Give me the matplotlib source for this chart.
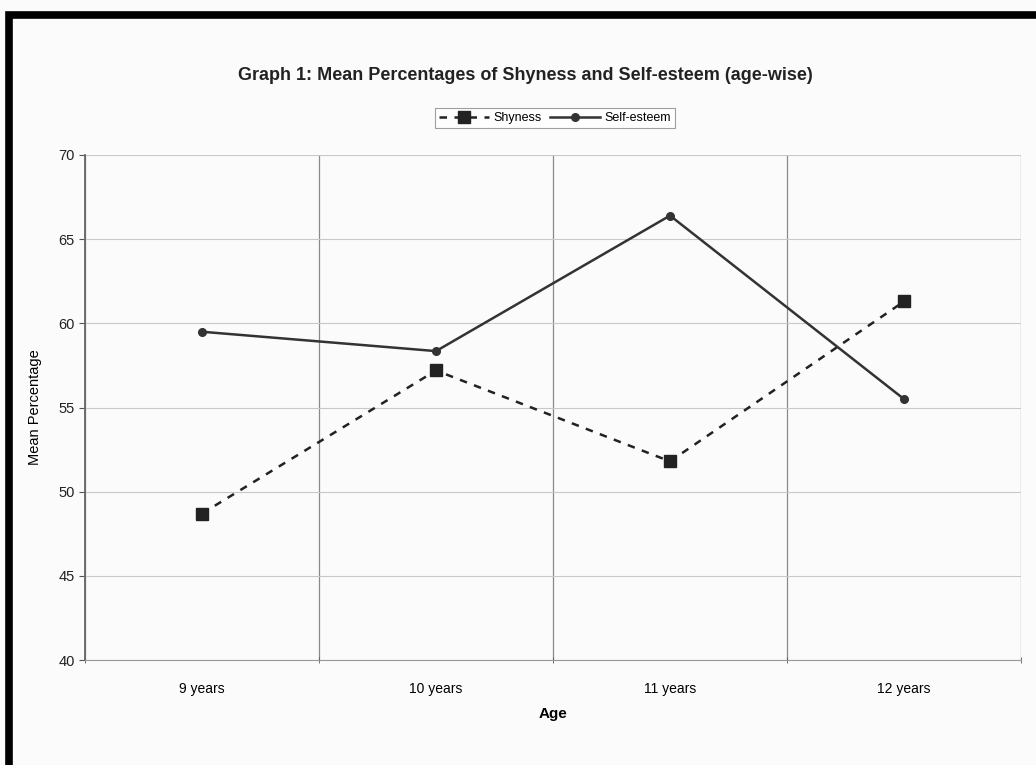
import numpy as np
import matplotlib.pyplot as plt
from matplotlib.patches import Rectangle

plt.rcParams['font.family'] = ['Liberation Sans', 'DejaVu Sans']

# data
ages = ["9 years", "10 years", "11 years", "12 years"]
shyness = [48.7, 57.2, 51.8, 61.3]
self_esteem = [59.5, 58.35, 66.4, 55.5]

fig = plt.figure(figsize=(10.36, 7.65), dpi=100)
fig.patch.set_facecolor('#fbfbfb')

# thick black frame from the scan (open at right/bottom, runs off the page)
fig.patches.append(Rectangle((8.5 / 1036, -0.1), 1.2, (765 - 14.5) / 765 + 0.1,
                             transform=fig.transFigure, fill=False,
                             edgecolor='black', linewidth=5.5))

ax = fig.add_axes([85 / 1036, 105 / 765, 936 / 1036, 505 / 765])
ax.set_facecolor('#fbfbfb')

x = np.arange(len(ages))
ax.plot(x, shyness, linestyle=(0, (3, 3)), color='#222222', lw=1.8,
        marker='s', markersize=8, label='Shyness')
ax.plot(x, self_esteem, linestyle='-', color='#333333', lw=1.8,
        marker='o', markersize=5.5, label='Self-esteem')

ax.set_xlim(-0.5, len(ages) - 0.5)
ax.set_ylim(40, 70)
ax.set_yticks(np.arange(40, 71, 5))
ax.set_xticks(x)
ax.set_xticklabels(ages, fontsize=10)
ax.set_xticks(np.arange(-0.5, len(ages)), minor=True)
ax.tick_params(axis='x', which='major', length=0, pad=16)
ax.tick_params(axis='x', which='minor', length=5, direction='inout', color='#555555')
ax.tick_params(axis='y', length=4, color='#555555', labelsize=10.5, labelcolor='#222222')

ax.grid(axis='y', color='#c8c8c8', lw=0.8)
ax.grid(axis='x', which='minor', color='#8a8a8a', lw=0.9)
ax.set_axisbelow(True)

for s in ['top', 'right']:
    ax.spines[s].set_visible(False)
ax.spines['left'].set_color('#666666')
ax.spines['left'].set_linewidth(1.3)
ax.spines['bottom'].set_color('#999999')

ax.set_ylabel('Mean Percentage', fontsize=10.5, labelpad=12)
ax.set_xlabel('Age', fontsize=11, labelpad=8, fontweight='bold')

fig.text(525 / 1036, 1 - 75 / 765, 'Graph 1: Mean Percentages of Shyness and Self-esteem (age-wise)',
         ha='center', va='center', fontsize=13, fontweight='bold', color='#222222')

leg = fig.legend(loc='center', bbox_to_anchor=(555 / 1036, 1 - 118 / 765), ncol=2,
                 frameon=True, fancybox=False, fontsize=9, handlelength=4,
                 columnspacing=0.6, handletextpad=0.4, borderpad=0.3)
leg.get_frame().set_edgecolor('#888888')
leg.get_frame().set_linewidth(0.8)

fig.savefig('out.png', dpi=100, facecolor=fig.get_facecolor())
